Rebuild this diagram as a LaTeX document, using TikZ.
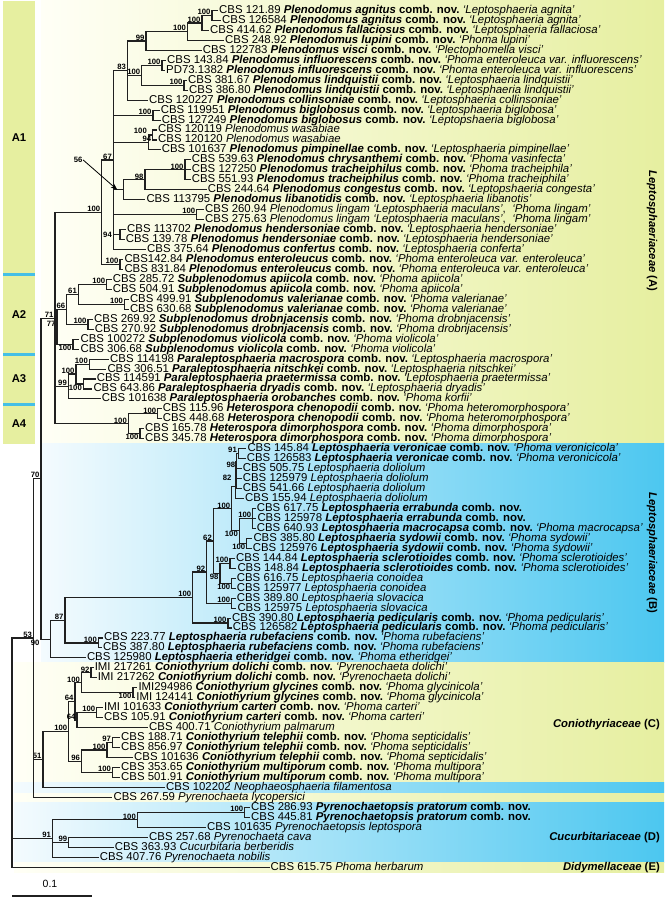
\documentclass[tikz,border=0pt]{standalone}
\usepackage{fontspec}
\setmainfont{Liberation Sans}
\usetikzlibrary{arrows.meta,positioning}
\definecolor{ink}{HTML}{202020}
\definecolor{lime}{HTML}{E6EFA0}
\definecolor{limewash}{HTML}{FFFFF6}
\definecolor{sky}{HTML}{4CC7F0}
\definecolor{skywash}{HTML}{F4FBFE}
\definecolor{rule}{HTML}{45BFE6}
\newcommand{\bi}[1]{\textbf{\textit{#1}}}
\newcommand{\cn}{\textbf{comb. nov.}}
\newcommand{\an}[1]{\hspace{.3em}\textit{‘#1’}}
\newcommand{\clade}[2]{\foreach \kid in {#2}{\draw[br] (#1) |- (\kid);}}

\begin{document}
\begin{tikzpicture}[x=1pt,y=-1pt,>=Stealth,
  leaf/.style={anchor=west,inner sep=1pt,text height=7.9pt,text depth=2pt,font=\fontsize{11.4}{11.5}\selectfont},
  bs/.style={anchor=south east,inner sep=0.5pt,xshift=-0.8pt,font=\fontsize{7.7}{8}\selectfont\bfseries},
  bsb/.style={bs,anchor=north east},
  br/.style={line width=1.1pt,draw=ink},
  fam/.style={inner sep=0pt,font=\fontsize{11.3}{12}\selectfont},
  grp/.style={inner sep=0pt,font=\fontsize{11.3}{12}\selectfont\bfseries}]
\useasboundingbox (0,0) rectangle (669,901);
% backgrounds
\shade[left color=limewash,right color=lime] (41,1) rectangle (664,443.7);
\shade[left color=skywash,right color=sky] (41,443.7) rectangle (664,662.9);
\shade[left color=limewash,right color=lime] (14,662.9) rectangle (664,802.3);
\shade[left color=skywash,right color=sky] (14,782.4) rectangle (664,792.4);
\shade[left color=skywash,right color=sky] (14,802.3) rectangle (664,862.1);
\shade[left color=limewash,right color=lime] (14,862.1) rectangle (664,872.1);
\fill[lime] (3,1) rectangle (35,443.7);
\draw[rule,line width=3pt] (3,274.5) -- (35,274.5) (3,354.1) -- (35,354.1) (3,404) -- (35,404);
\node[grp] (gA1) at (19,137.7) {A1};
\node[grp] (gA2) at (19,314.3) {A2};
\node[grp] (gA3) at (19,379) {A3};
\node[grp] (gA4) at (19,423.9) {A4};
\node[fam,rotate=-90] (famA) at (652,231) {\bi{Leptosphaeriaceae} \textbf{(A)}};
\node[fam,rotate=-90] (famB) at (652,553) {\bi{Leptosphaeriaceae} \textbf{(B)}};
\node[fam,anchor=east] (famC) at (660,725) {\bi{Coniothyriaceae} \textbf{(C)}};
\node[fam,anchor=east] (famD) at (660,837.2) {\bi{Cucurbitariaceae} \textbf{(D)}};
\node[fam,anchor=east] (famE) at (660,867.1) {\bi{Didymellaceae} \textbf{(E)}};

% leaves
\node[leaf] (l1) at (218,10.5) {CBS 121.89 \bi{Plenodomus agnitus} \cn\an{Leptosphaeria agnita}};
\node[leaf] (l2) at (221,20.5) {CBS 126584 \bi{Plenodomus agnitus} \cn\an{Leptosphaeria agnita}};
\node[leaf] (l3) at (209,30.4) {CBS 414.62 \bi{Plenodomus fallaciosus} \cn\an{Leptosphaeria fallaciosa}};
\node[leaf] (l4) at (224,40.4) {CBS 248.92 \bi{Plenodomus lupini} \cn\an{Phoma lupini}};
\node[leaf] (l5) at (201.7,50.3) {CBS 122783 \bi{Plenodomus visci} \cn\an{Plectophomella visci}};
\node[leaf] (l6) at (166,60.3) {CBS 143.84 \bi{Plenodomus influorescens} \cn\an{Phoma enteroleuca var. influorescens}};
\node[leaf] (l7) at (165,70.3) {PD73.1382 \bi{Plenodomus influorescens} \cn\an{Phoma enteroleuca var. influorescens}};
\node[leaf] (l8) at (187,80.2) {CBS 381.67 \bi{Plenodomus lindquistii} \cn\an{Leptosphaeria lindquistii}};
\node[leaf] (l9) at (188,90.2) {CBS 386.80 \bi{Plenodomus lindquistii} \cn\an{Leptosphaeria lindquistii}};
\node[leaf] (l10) at (148,100.1) {CBS 120227 \bi{Plenodomus collinsoniae} \cn\an{Leptosphaeria collinsoniae}};
\node[leaf] (l11) at (159.7,110.1) {CBS 119951 \bi{Plenodomus biglobosus} \cn\an{Leptosphaeria biglobosa}};
\node[leaf] (l12) at (160.7,120.1) {CBS 127249 \bi{Plenodomus biglobosus} \cn\an{Leptopshaeria biglobosa}};
\node[leaf] (l13) at (157,130) {CBS 120119 \textit{Plenodomus wasabiae}};
\node[leaf] (l14) at (157,140) {CBS 120120 \textit{Plenodomus wasabiae}};
\node[leaf] (l15) at (160.7,149.9) {CBS 101637 \bi{Plenodomus pimpinellae} \cn\an{Leptosphaeria pimpinellae}};
\node[leaf] (l16) at (190.7,159.9) {CBS 539.63 \bi{Plenodomus chrysanthemi} \cn\an{Phoma vasinfecta}};
\node[leaf] (l17) at (190.7,169.9) {CBS 127250 \bi{Plenodomus tracheiphilus} \cn\an{Phoma tracheiphila}};
\node[leaf] (l18) at (190.7,179.8) {CBS 551.93 \bi{Plenodomus tracheiphilus} \cn\an{Phoma tracheiphila}};
\node[leaf] (l19) at (206.7,189.8) {CBS 244.64 \bi{Plenodomus congestus} \cn\an{Leptopshaeria congesta}};
\node[leaf] (l20) at (145.3,199.7) {CBS 113795 \bi{Plenodomus libanotidis} \cn\an{Leptosphaeria libanotis}};
\node[leaf] (l21) at (204,209.7) {CBS 260.94 \textit{Plenodomus lingam}\an{Leptosphaeria maculans}, \an{Phoma lingam}};
\node[leaf] (l22) at (204,219.7) {CBS 275.63 \textit{Plenodomus lingam}\an{Leptosphaeria maculans}, \an{Phoma lingam}};
\node[leaf] (l23) at (126,229.6) {CBS 113702 \bi{Plenodomus hendersoniae} \cn\an{Leptosphaeria hendersoniae}};
\node[leaf] (l24) at (124.7,239.6) {CBS 139.78 \bi{Plenodomus hendersoniae} \cn\an{Leptosphaeria hendersoniae}};
\node[leaf] (l25) at (146,249.5) {CBS 375.64 \bi{Plenodomus confertus} \cn\an{Leptosphaeria conferta}};
\node[leaf] (l26) at (123.3,259.5) {CBS142.84 \bi{Plenodomus enteroleucus} \cn\an{Phoma enteroleuca var. enteroleuca}};
\node[leaf] (l27) at (123.3,269.5) {CBS 831.84 \bi{Plenodomus enteroleucus} \cn\an{Phoma enteroleuca var. enteroleuca}};
\node[leaf] (l28) at (111.7,279.4) {CBS 285.72 \bi{Subplenodomus apiicola} \cn\an{Phoma apiicola}};
\node[leaf] (l29) at (111.7,289.4) {CBS 504.91 \bi{Subplenodomus apiicola} \cn\an{Phoma apiicola}};
\node[leaf] (l30) at (128.8,299.3) {CBS 499.91 \bi{Subplenodomus valerianae} \cn\an{Phoma valerianae}};
\node[leaf] (l31) at (128.8,309.3) {CBS 630.68 \bi{Subplenodomus valerianae} \cn\an{Phoma valerianae}};
\node[leaf] (l32) at (93,319.3) {CBS 269.92 \bi{Subplenodomus drobnjacensis} \cn\an{Phoma drobnjacensis}};
\node[leaf] (l33) at (93.6,329.2) {CBS 270.92 \bi{Subplenodomus drobnjacensis} \cn\an{Phoma drobnjacensis}};
\node[leaf] (l34) at (79.4,339.2) {CBS 100272 \bi{Subplenodomus violicola} \cn\an{Phoma violicola}};
\node[leaf] (l35) at (79.4,349.1) {CBS 306.68 \bi{Subplenodomus violicola} \cn\an{Phoma violicola}};
\node[leaf] (l36) at (109,359.1) {CBS 114198 \bi{Paraleptosphaeria macrospora} \cn\an{Leptosphaeria macrospora}};
\node[leaf] (l37) at (106.3,369.1) {CBS 306.51 \bi{Paraleptosphaeria nitschkei} \cn\an{Leptosphaeria nitschkei}};
\node[leaf] (l38) at (95.7,379) {CBS 114591 \bi{Paraleptosphaeria praetermissa} \cn\an{Leptosphaeria praetermissa}};
\node[leaf] (l39) at (92.3,389) {CBS 643.86 \bi{Paraleptosphaeria dryadis} \cn\an{Leptosphaeria dryadis}};
\node[leaf] (l40) at (100.7,398.9) {CBS 101638 \bi{Paraleptosphaeria orobanches} \cn\an{Phoma korfii}};
\node[leaf] (l41) at (161.7,408.9) {CBS 115.96 \bi{Heterospora chenopodii} \cn\an{Phoma heteromorphospora}};
\node[leaf] (l42) at (161.7,418.9) {CBS 448.68 \bi{Heterospora chenopodii} \cn\an{Phoma heteromorphospora}};
\node[leaf] (l43) at (144,428.8) {CBS 165.78 \bi{Heterospora dimorphospora} \cn\an{Phoma dimorphospora}};
\node[leaf] (l44) at (144,438.8) {CBS 345.78 \bi{Heterospora dimorphospora} \cn\an{Phoma dimorphospora}};
\node[leaf] (l45) at (246.3,448.7) {CBS 145.84 \bi{Leptosphaeria veronicae} \cn\an{Phoma veronicicola}};
\node[leaf] (l46) at (245.7,458.7) {CBS 126583 \bi{Leptosphaeria veronicae} \cn\an{Phoma veronicicola}};
\node[leaf] (l47) at (241.7,468.7) {CBS 505.75 \textit{Leptosphaeria doliolum}};
\node[leaf] (l48) at (241.7,478.6) {CBS 125979 \textit{Leptosphaeria doliolum}};
\node[leaf] (l49) at (241.7,488.6) {CBS 541.66 \textit{Leptosphaeria doliolum}};
\node[leaf] (l50) at (244,498.5) {CBS 155.94 \textit{Leptosphaeria doliolum}};
\node[leaf] (l51) at (255.7,508.5) {CBS 617.75 \bi{Leptosphaeria errabunda} \cn};
\node[leaf] (l52) at (256.3,518.5) {CBS 125978 \bi{Leptosphaeria errabunda} \cn};
\node[leaf] (l53) at (255.7,528.4) {CBS 640.93 \bi{Leptosphaeria macrocapsa} \cn\an{Phoma macrocapsa}};
\node[leaf] (l54) at (252.3,538.4) {CBS 385.80 \bi{Leptosphaeria sydowii} \cn\an{Phoma sydowii}};
\node[leaf] (l55) at (251.7,548.3) {CBS 125976 \bi{Leptosphaeria sydowii} \cn\an{Phoma sydowii}};
\node[leaf] (l56) at (235,558.3) {CBS 144.84 \bi{Leptosphaeria sclerotioides} \cn\an{Phoma sclerotioides}};
\node[leaf] (l57) at (236.3,568.3) {CBS 148.84 \bi{Leptosphaeria sclerotioides} \cn\an{Phoma sclerotioides}};
\node[leaf] (l58) at (235.7,578.2) {CBS 616.75 \textit{Leptosphaeria conoidea}};
\node[leaf] (l59) at (235.7,588.2) {CBS 125977 \textit{Leptosphaeria conoidea}};
\node[leaf] (l60) at (235.7,598.1) {CBS 389.80 \textit{Leptosphaeria slovacica}};
\node[leaf] (l61) at (236.3,608.1) {CBS 125975 \textit{Leptosphaeria slovacica}};
\node[leaf] (l62) at (231,618.1) {CBS 390.80 \bi{Leptosphaeria pedicularis} \cn\an{Phoma pedicularis}};
\node[leaf] (l63) at (231.7,628) {CBS 126582 \bi{Leptosphaeria pedicularis} \cn\an{Phoma pedicularis}};
\node[leaf] (l64) at (103,638) {CBS 223.77 \bi{Leptosphaeria rubefaciens} \cn\an{Phoma rubefaciens}};
\node[leaf] (l65) at (102,647.9) {CBS 387.80 \bi{Leptosphaeria rubefaciens} \cn\an{Phoma rubefaciens}};
\node[leaf] (l66) at (85.8,657.9) {CBS 125980 \bi{Leptosphaeria etheridgei} \cn\an{Phoma etheridgei}};
\node[leaf] (l67) at (93.6,667.9) {IMI 217261 \bi{Coniothyrium dolichi} \cn\an{Pyrenochaeta dolichi}};
\node[leaf] (l68) at (96.6,677.8) {IMI 217262 \bi{Coniothyrium dolichi} \cn\an{Pyrenochaeta dolichi}};
\node[leaf] (l69) at (137.3,687.8) {IMI294986 \bi{Coniothyrium glycines} \cn\an{Phoma glycinicola}};
\node[leaf] (l70) at (135.2,697.7) {IMI 124141 \bi{Coniothyrium glycines} \cn\an{Phoma glycinicola}};
\node[leaf] (l71) at (103,707.7) {IMI 101633 \bi{Coniothyrium carteri} \cn\an{Phoma carteri}};
\node[leaf] (l72) at (103,717.7) {CBS 105.91 \bi{Coniothyrium carteri} \cn\an{Phoma carteri}};
\node[leaf] (l73) at (148,727.6) {CBS 400.71 \textit{Coniothyrium palmarum}};
\node[leaf] (l74) at (120,737.6) {CBS 188.71 \bi{Coniothyrium telephii} \cn\an{Phoma septicidalis}};
\node[leaf] (l75) at (120,747.5) {CBS 856.97 \bi{Coniothyrium telephii} \cn\an{Phoma septicidalis}};
\node[leaf] (l76) at (133,757.5) {CBS 101636 \bi{Coniothyrium telephii} \cn\an{Phoma septicidalis}};
\node[leaf] (l77) at (120,767.5) {CBS 353.65 \bi{Coniothyrium multiporum} \cn\an{Phoma multipora}};
\node[leaf] (l78) at (120,777.4) {CBS 501.91 \bi{Coniothyrium multiporum} \cn\an{Phoma multipora}};
\node[leaf] (l79) at (165,787.4) {CBS 102202 \textit{Neophaeosphaeria filamentosa}};
\node[leaf] (l80) at (112.4,797.3) {CBS 267.59 \textit{Pyrenochaeta lycopersici}};
\node[leaf] (l81) at (250,807.3) {CBS 286.93 \bi{Pyrenochaetopsis pratorum} \cn};
\node[leaf] (l82) at (250,817.3) {CBS 445.81 \bi{Pyrenochaetopsis pratorum} \cn};
\node[leaf] (l83) at (206,827.2) {CBS 101635 \textit{Pyrenochaetopsis leptospora}};
\node[leaf] (l84) at (148,837.2) {CBS 257.68 \textit{Pyrenochaeta cava}};
\node[leaf] (l85) at (113.7,847.1) {CBS 363.93 \textit{Cucurbitaria berberidis}};
\node[leaf] (l86) at (98.7,857.1) {CBS 407.76 \textit{Pyrenochaeta nobilis}};
\node[leaf] (l87) at (269.5,867.1) {CBS 615.75 \textit{Phoma herbarum}};

% A1 Plenodomus
\coordinate (n12) at (212,15.5);
\coordinate (n13) at (202,23);
\coordinate (n14) at (187.5,31.7);
\coordinate (n15) at (146,41);
\coordinate (n67) at (162,65.3);
\coordinate (n89) at (184,85.2);
\coordinate (n69) at (141.6,75.2);
\coordinate (n110) at (127.5,70.6);
\coordinate (n1112) at (153,115.1);
\coordinate (n1314) at (152.7,135);
\coordinate (n1315) at (148.3,142.5);
\coordinate (n1618) at (185,169.9);
\coordinate (n1619) at (145,179.8);
\coordinate (n1620) at (123.3,189.8);
\coordinate (n2122) at (196.7,214.7);
\coordinate (n2324) at (120,234.6);
\coordinate (n125) at (113.3,160);
\coordinate (n2627) at (120,264.5);
\coordinate (nPl) at (101.7,212.3);
\clade{n12}{l1,l2}
\clade{n13}{n12,l3}
\clade{n14}{n13,l4}
\clade{n15}{n14,l5}
\clade{n67}{l6,l7}
\clade{n89}{l8,l9}
\clade{n69}{n67,n89}
\clade{n110}{n15,n69,l10}
\clade{n1112}{l11,l12}
\clade{n1314}{l13,l14}
\clade{n1315}{n1314,l15}
\clade{n1618}{l16,l17,l18}
\clade{n1619}{n1618,l19}
\clade{n1620}{n1619,l20}
\clade{n2122}{l21,l22}
\clade{n2324}{l23,l24}
\clade{n125}{n110,n1112,n1315,n1620,n2122,n2324,l25}
\clade{n2627}{l26,l27}
\clade{nPl}{n125,n2627}
\node[bs] (s12) at (n12) {100};
\node[bs] (s13) at (n13) {100};
\node[bs] (s14) at (n14) {100};
\node[bs] (s15) at (n15) {99};
\node[bs] (s67) at (n67) {100};
\node[bs] (s89) at (n89) {100};
\node[bs] (s69) at (n69) {100};
\node[bs] (s110) at (n110) {83};
\node[bs] (s1112) at (n1112) {100};
\node[bsb] (s1314) at (n1314) {94};
\node[bs,yshift=8pt] (s1315) at (n1315) {100};
\node[bs] (s1618) at (n1618) {100};
\node[bs] (s1619) at (n1619) {98};
\node[bs,anchor=east] (s1620) at (84,160) {56};
\draw[->,line width=0.8pt] (s1620.east) -- ([xshift=-6pt]n1620);
\node[bs] (s2122) at (n2122) {100};
\node[bs,anchor=east] (s2324) at (n125|-n2324) {94};
\node[bs] (s125) at (n125) {67};
\node[bs] (s2627) at (n2627) {100};
\node[bs] (sPl) at (nPl) {100};

% A2 Subplenodomus
\coordinate (n2829) at (106.7,284.4);
\coordinate (n3031) at (124.5,304.3);
\coordinate (n61) at (78.3,294.4);
\coordinate (n3233) at (88,324.2);
\coordinate (n66) at (66.7,309.3);
\coordinate (n3435) at (73,344.1);
\coordinate (n77) at (57,326.7);
\clade{n2829}{l28,l29}
\clade{n3031}{l30,l31}
\clade{n61}{n2829,n3031}
\clade{n3233}{l32,l33}
\clade{n66}{n61,n3233}
\clade{n3435}{l34,l35}
\clade{n77}{n66,n3435}
\node[bs] (s2829) at (n2829) {100};
\node[bs] (s3031) at (n3031) {100};
\node[bs] (s61) at (n61) {61};
\node[bs] (s3233) at (n3233) {100};
\node[bs] (s66) at (n66) {66};
\node[bsb] (s3435) at (n3435) {100};
\node[bs] (s77) at (n77) {77};

% A3 Paraleptosphaeria, A4 Heterospora
\coordinate (n3637) at (89.3,364.1);
\coordinate (n3839) at (83.3,384);
\coordinate (nPa1) at (76,374);
\coordinate (nPa) at (68.3,386.5);
\coordinate (n4142) at (157.7,413.9);
\coordinate (n4344) at (140,433.8);
\coordinate (nHe) at (128.3,423.9);
\coordinate (n71) at (55,318.1);
\clade{n3637}{l36,l37}
\clade{n3839}{l38,l39}
\clade{nPa1}{n3637,n3839}
\clade{nPa}{nPa1,l40}
\clade{n4142}{l41,l42}
\clade{n4344}{l43,l44}
\clade{nHe}{n4142,n4344}
\clade{n71}{nPl,n77,nPa,nHe}
\node[bs] (s3637) at (n3637) {100};
\node[bsb] (s3839) at (n3839) {100};
\node[bs] (sPa1) at (nPa1) {100};
\node[bs] (sPa) at (nPa) {99};
\node[bs] (s4142) at (n4142) {100};
\node[bsb] (s4344) at (n4344) {100};
\node[bs] (sHe) at (nHe) {100};
\node[bs] (s71) at (n71) {71};

% B Leptosphaeria
\coordinate (n4546) at (238.3,453.7);
\coordinate (n98) at (236.7,461.2);
\coordinate (n82) at (236,474.9);
\coordinate (nDo) at (235.5,486.7);
\coordinate (nEr) at (252.7,518.4);
\coordinate (n5455) at (246.7,543.4);
\coordinate (nES) at (239.3,530.9);
\coordinate (nLa) at (231.7,508.8);
\coordinate (n5657) at (230,563.3);
\coordinate (n5859) at (231.7,583.2);
\coordinate (nSc) at (220,573.3);
\coordinate (n62) at (213.3,541);
\coordinate (n6061) at (231.7,603.1);
\coordinate (n92) at (206.7,572);
\coordinate (n6263) at (228,623);
\coordinate (nLe) at (192.7,597.5);
\coordinate (n6465) at (98.3,643);
\coordinate (n87) at (65,620.3);
\coordinate (n90) at (50.7,639.1);
\clade{n4546}{l45,l46}
\clade{n98}{n4546,l47}
\clade{n82}{n98,l48,l49}
\clade{nDo}{n82,l50}
\clade{nEr}{l51,l52,l53}
\clade{n5455}{l54,l55}
\clade{nES}{nEr,n5455}
\clade{nLa}{nDo,nES}
\clade{n5657}{l56,l57}
\clade{n5859}{l58,l59}
\clade{nSc}{n5657,n5859}
\clade{n62}{nLa,nSc}
\clade{n6061}{l60,l61}
\clade{n92}{n62,n6061}
\clade{n6263}{l62,l63}
\clade{nLe}{n92,n6263}
\clade{n6465}{l64,l65}
\clade{n87}{nLe,n6465}
\clade{n90}{n87,l66}
\node[bs] (s4546) at (n4546) {91};
\node[bsb] (s98) at (n98) {98};
\node[bsb,xshift=-3pt] (s82) at (n82) {82};
\node[bs] (sEr) at (nEr) {100};
\node[bsb] (s5455) at (n5455) {100};
\node[bsb] (sES) at (nES) {100};
\node[bs] (sLa) at (nLa) {100};
\node[bs] (s5657) at (n5657) {100};
\node[bsb] (s5859) at (n5859) {100};
\node[bsb] (sSc) at (nSc) {98};
\node[bs] (s62) at (n62) {62};
\node[bs] (s6061) at (n6061) {100};
\node[bs] (s92) at (n92) {92};
\node[bs] (s6263) at (n6263) {100};
\node[bs] (sLe) at (nLe) {100};
\node[bs] (s6465) at (n6465) {100};
\node[bs] (s87) at (n87) {87};

% C Coniothyrium
\coordinate (n6768) at (91,672.9);
\coordinate (n6970) at (133,692.8);
\coordinate (nDG) at (81.5,682.8);
\coordinate (n7172) at (96.6,712.7);
\coordinate (n64b) at (77,720.2);
\coordinate (n64a) at (75,701.5);
\coordinate (n7475) at (112.4,742.6);
\coordinate (nTe) at (107,750);
\coordinate (n7778) at (112.4,772.5);
\coordinate (n96) at (81.5,761.3);
\coordinate (nCo) at (68.7,731.4);
\coordinate (n51) at (43,759.4);
\clade{n6768}{l67,l68}
\clade{n6970}{l69,l70}
\clade{nDG}{n6768,n6970}
\clade{n7172}{l71,l72}
\clade{n64b}{n7172,l73}
\clade{n64a}{nDG,n64b}
\clade{n7475}{l74,l75}
\clade{nTe}{n7475,l76}
\clade{n7778}{l77,l78}
\clade{n96}{nTe,n7778}
\clade{nCo}{n64a,n96}
\clade{n51}{nCo,l79}
\node[bs] (s6768) at (n6768) {92};
\node[bsb] (s6970) at (n6970) {100};
\node[bs] (sDG) at (nDG) {100};
\node[bs] (s7172) at (n7172) {100};
\node[bs] (s64b) at (n64b) {64};
\node[bs] (s64a) at (n64a) {64};
\node[bs] (s7475) at (n7475) {97};
\node[bs] (sTe) at (nTe) {100};
\node[bs] (s7778) at (n7778) {100};
\node[bs] (s96) at (n96) {96};
\node[bs] (sCo) at (nCo) {100};
\node[bs] (s51) at (n51) {51};

% backbone, D Cucurbitariaceae, E
\coordinate (n70) at (41,478.6);
\coordinate (n53) at (33.5,638);
\coordinate (n8182) at (244.6,812.3);
\coordinate (nPy) at (137.3,819.8);
\coordinate (n8485) at (68.7,842.2);
\coordinate (n91) at (52.4,838.5);
\coordinate (root) at (12,752.6);
\clade{n70}{n71,n90}
\clade{n53}{n70,n51,l80}
\clade{n8182}{l81,l82}
\clade{nPy}{n8182,l83}
\clade{n8485}{l84,l85}
\clade{n91}{nPy,n8485,l86}
\clade{root}{n53,n91,l87}
\node[bs] (s70) at (n70) {70};
\node[bsb] (s90) at (n70|-n90) {90};
\node[bs] (s53) at (n53) {53};
\node[bs] (s8182) at (n8182) {100};
\node[bs] (sPy) at (nPy) {100};
\node[bs] (s8485) at (n8485) {99};
\node[bs] (s91) at (n91) {91};

% scale bar
\coordinate (sb0) at (12,896);
\coordinate (sb1) at (92,896);
\draw[br] (sb0) -- (sb1);
\node[font=\fontsize{10.5}{11}\selectfont] (sbl) at (50,884) {0.1};
\end{tikzpicture}
\end{document}
